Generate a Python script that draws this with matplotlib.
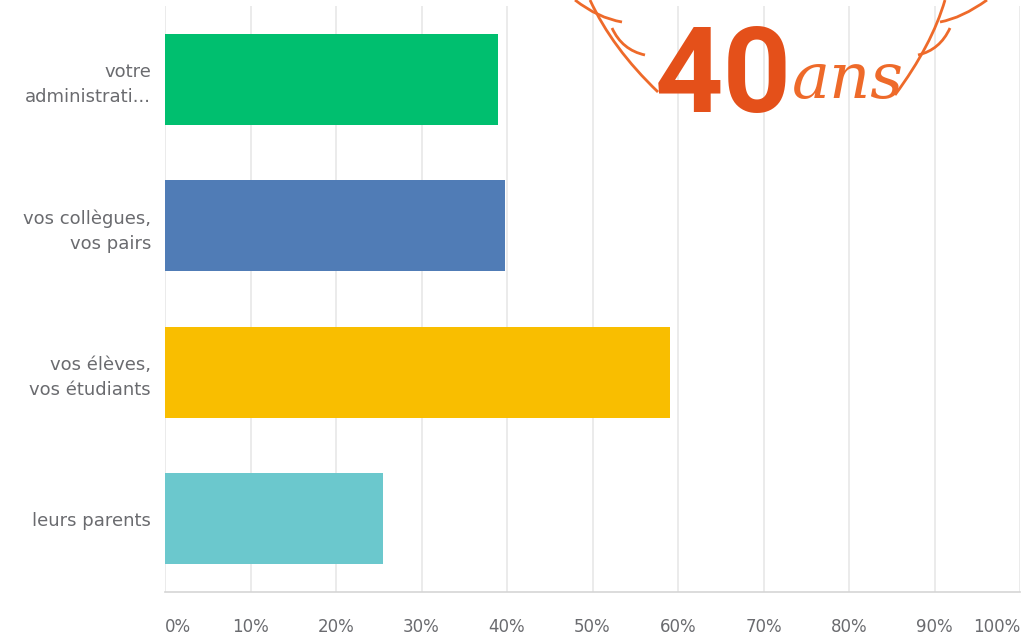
import matplotlib
matplotlib.use("Agg")
import matplotlib.pyplot as plt
from matplotlib.path import Path
from matplotlib.patches import PathPatch
from matplotlib.transforms import Affine2D

categories = ["votre\nadministrati...", "vos collègues,\nvos pairs",
              "vos élèves,\nvos étudiants", "leurs parents"]
values = [38.9, 39.8, 59.1, 25.5]
colors = ["#00bf6f", "#507cb6", "#f9be00", "#6bc8cd"]
ticks = list(range(0, 101, 10))
tick_labels = [f"{t}%" for t in ticks]

W, H = 1028, 635
fig = plt.figure(figsize=(W / 100, H / 100), dpi=100)
ax = fig.add_axes([165 / W, 43 / H, 855 / W, 586 / H])

ypos = list(range(len(categories)))
ax.barh(ypos, values, height=0.62, color=colors, zorder=3)
ax.set_ylim(len(categories) - 0.5, -0.5)
ax.set_xlim(0, 100)
ax.set_yticks(ypos)
yl = ax.set_yticklabels(categories, fontsize=13, color="#6a6b6f", family="DejaVu Sans")
for t in yl:
    t.set_linespacing(1.5)
ax.set_xticks(ticks)
xl = ax.set_xticklabels(tick_labels, fontsize=12, color="#6a6b6f", family="DejaVu Sans")
xl[0].set_ha("left")
xl[-1].set_ha("right")
ax.tick_params(axis="both", length=0)
ax.tick_params(axis="x", pad=19)
ax.tick_params(axis="y", pad=10)
ax.grid(axis="x", color="#ebebeb", linewidth=1.4, zorder=0)
for s in ["top", "right", "left"]:
    ax.spines[s].set_visible(False)
ax.spines["bottom"].set_color("#d5d5d5")
ax.spines["bottom"].set_linewidth(1.2)

# "40 ans" logo overlay (figure pixel coordinates, origin top-left)
fig.text(655 / W, 1 - 112 / H, "40", fontsize=86, fontweight="bold",
         color="#e4501a", family=["Roboto", "DejaVu Sans"], va="baseline", ha="left")
fig.text(792 / W, 1 - 98 / H, "ans", fontsize=46, style="italic",
         color="#ee6a2a", family="DejaVu Serif", va="baseline", ha="left")

pix = Affine2D().scale(1, -1).translate(0, H)
curves = [
    [(590, 0), (612, 48), (658, 92)],
    [(575, 0), (598, 18), (622, 22)],
    [(612, 28), (622, 50), (645, 55)],
    [(945, 0), (932, 45), (895, 95)],
    [(987, 0), (962, 18), (940, 22)],
    [(950, 28), (940, 50), (918, 55)],
]
for c in curves:
    p = Path(c, [Path.MOVETO, Path.CURVE3, Path.CURVE3])
    patch = PathPatch(p, facecolor="none", edgecolor="#ee6a2a", linewidth=2.0,
                      transform=pix)
    fig.add_artist(patch)

fig.savefig("out.png", dpi=100)
